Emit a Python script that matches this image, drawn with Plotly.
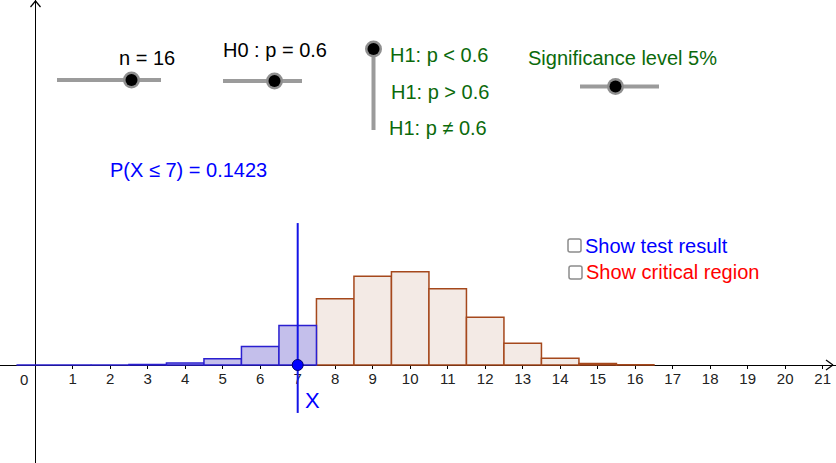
import plotly.graph_objects as go

WIDTH = 836
HEIGHT = 463

# P(X = k) for k successes
blue_k = [0, 1, 2, 3, 4, 5, 6, 7]
blue_p = [0.0, 0.0, 0.0002, 0.0012, 0.0040, 0.0135, 0.0392, 0.0840]
brown_k = [8, 9, 10, 11, 12, 13, 14, 15, 16]
brown_p = [0.1410, 0.1889, 0.1983, 0.1623, 0.1014, 0.0465, 0.0145, 0.0032, 0.0003]

tick_values = list(range(1, 22))
tick_labels = [str(v) for v in tick_values]

marker_x = [7, 7]
marker_y = [-0.102, 0.302]

GREEN = "#0b6a0b"
BLUE = "#0000ff"
RED = "#ff0000"
GREY = "#9b9b9b"


def px(x):
    return x / WIDTH


def py(y):
    return 1 - y / HEIGHT


def line(x0, y0, x1, y1, color=GREY, width=4):
    return dict(type="line", xref="paper", yref="paper", x0=px(x0), y0=py(y0), x1=px(x1), y1=py(y1),
                line=dict(color=color, width=width))


def circle(cx, cy, r, fill, border="rgba(0,0,0,0)", width=0):
    return dict(type="circle", xref="paper", yref="paper", x0=px(cx - r), x1=px(cx + r),
                y0=py(cy + r), y1=py(cy - r), fillcolor=fill, line=dict(color=border, width=width))


def handle(cx, cy):
    return [circle(cx, cy, 8.5, "#8f8f8f"), circle(cx, cy, 6, "#000000")]


def checkbox(x0, y0, size=13):
    r = 2
    x1, y1 = x0 + size, y0 + size
    pts = [
        f"M{px(x0 + r)},{py(y0)}", f"L{px(x1 - r)},{py(y0)}", f"Q{px(x1)},{py(y0)} {px(x1)},{py(y0 + r)}",
        f"L{px(x1)},{py(y1 - r)}", f"Q{px(x1)},{py(y1)} {px(x1 - r)},{py(y1)}",
        f"L{px(x0 + r)},{py(y1)}", f"Q{px(x0)},{py(y1)} {px(x0)},{py(y1 - r)}",
        f"L{px(x0)},{py(y0 + r)}", f"Q{px(x0)},{py(y0)} {px(x0 + r)},{py(y0)}", "Z",
    ]
    return dict(type="path", xref="paper", yref="paper", path=" ".join(pts),
                fillcolor="#ffffff", line=dict(color="#8c8c8c", width=1.5))


def label(x, y, text, color="#000000", size=20, anchor="left"):
    return dict(x=px(x), y=py(y), xref="paper", yref="paper", text=text, showarrow=False,
                xanchor=anchor, yanchor="middle", xshift=0, borderpad=0,
                font=dict(family="Liberation Sans", size=size, color=color))


fig = go.Figure()
fig.add_trace(go.Bar(x=brown_k, y=brown_p, width=1, marker=dict(color="#f3eae5", line=dict(color="#a5481c", width=1.5))))
fig.add_trace(go.Bar(x=blue_k, y=blue_p, width=1, marker=dict(color="#c4bfeb", line=dict(color="#2a1fd0", width=1.5))))
fig.add_trace(go.Scatter(x=marker_x, y=marker_y, mode="lines", line=dict(color="#1414e6", width=2)))
fig.add_trace(go.Scatter(x=[7], y=[0], mode="markers", cliponaxis=False,
                         marker=dict(color=BLUE, size=11, line=dict(color="#00006e", width=1))))

shapes = [
    line(57, 80, 161, 80), line(223, 81, 302, 81), line(373.5, 50, 373.5, 130), line(580, 86.5, 659, 86.5),
    line(826, 360, 833, 365, "#000000", 1.2), line(826, 370, 833, 365, "#000000", 1.2),
    line(30.5, 7, 35.5, 1, "#000000", 1.2), line(40.5, 7, 35.5, 1, "#000000", 1.2),
    checkbox(568, 239), checkbox(569, 266),
]
shapes += handle(131.5, 80) + handle(274.5, 81) + handle(373.5, 49) + handle(615.5, 86.5)

annotations = [
    label(118, 58, "n = 16"),
    label(222, 50, "H0 : p = 0.6"),
    label(389, 55, "H1: p &lt; 0.6", GREEN),
    label(390, 92, "H1: p &gt; 0.6", GREEN),
    label(388, 128, "H1: p ≠ 0.6", GREEN),
    label(527, 58, "Significance level 5%", GREEN),
    label(109, 170, "P(X ≤ 7) = 0.1423", BLUE),
    label(584, 246, "Show test result", BLUE),
    label(585, 272, "Show critical region", RED),
    label(304, 400, "X", BLUE, 22),
    label(24, 379, "0", "#222222", 15, "center"),
]

fig.update_layout(
    width=WIDTH,
    height=HEIGHT,
    margin=dict(l=0, r=0, t=0, b=0),
    paper_bgcolor="white",
    plot_bgcolor="white",
    showlegend=False,
    hovermode=False,
    barmode="overlay",
    shapes=shapes,
    annotations=annotations,
    xaxis=dict(
        range=[-35.2 / 37.5, (WIDTH - 35.2) / 37.5],
        domain=[0, 1],
        anchor="free",
        position=(HEIGHT - 365) / HEIGHT,
        tickvals=tick_values,
        ticktext=tick_labels,
        tickfont=dict(family="Liberation Sans", size=15, color="#222222"),
        ticks="outside",
        ticklen=3,
        tickcolor="#000000",
        ticklabelstandoff=-3,
        showgrid=False,
        zeroline=False,
        showline=True,
        linecolor="#000000",
        linewidth=1.2,
        layer="below traces",
    ),
    yaxis=dict(
        range=[-(HEIGHT - 365) / 470, 365 / 470],
        domain=[0, 1],
        anchor="free",
        position=34.5 / WIDTH,
        showticklabels=False,
        ticks="",
        showgrid=False,
        zeroline=False,
        showline=True,
        linecolor="#000000",
        linewidth=1.2,
        layer="below traces",
    ),
)

fig.write_html("out.html", config=dict(displayModeBar=False),
               post_script="document.body.style.margin='0';document.body.style.overflow='hidden';")
